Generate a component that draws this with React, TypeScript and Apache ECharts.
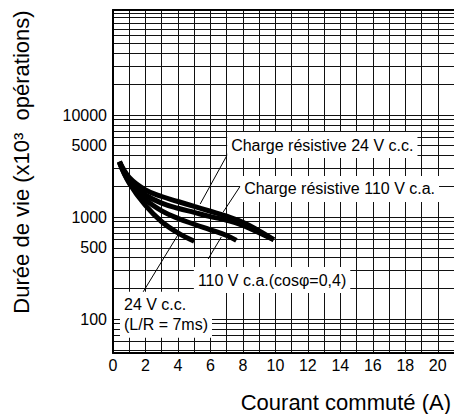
import React, { useEffect, useRef } from "react";
import * as echarts from "echarts";

const FONT = "'Liberation Sans', Arial, Helvetica, sans-serif";

// Axis ticks / labels
const xGridCurrents = [0, 1, 2, 3, 4, 5, 6, 7, 8, 9, 10, 11, 12, 13, 14, 15, 16, 17, 18, 19, 20];
const xLabelCurrents = [0, 2, 4, 6, 8, 10, 12, 14, 16, 18, 20];
const yLabelLives = [100, 500, 1000, 5000, 10000];
const yGridLives = [
  50, 60, 70, 80, 90,
  100, 200, 300, 400, 500, 600, 700, 800, 900,
  1000, 2000, 3000, 4000, 5000, 6000, 7000, 8000, 9000,
  10000, 20000, 30000, 40000, 50000, 60000, 70000, 80000, 90000,
  100000,
];
const xMinCurrent = 0;
const xMaxCurrent = 21;
const yMinLife = 46.5;
const yMaxLife = 107000;

// Curves (life in x10^3 operations vs switched current in A)
const res24Current = [0.4, 1, 2, 3, 4, 5, 6, 7, 8, 9, 9.9];
const res24Life = [3500, 2450, 1850, 1590, 1420, 1270, 1140, 1020, 890, 730, 600];
const res110Current = [0.4, 1, 2, 3, 4, 5, 6, 7, 8, 9, 9.9];
const res110Life = [3500, 2300, 1650, 1370, 1220, 1110, 1010, 930, 830, 700, 600];
const ind110Current = [0.4, 1, 2, 3, 4, 5, 6, 7, 7.6];
const ind110Life = [3450, 2200, 1480, 1150, 970, 850, 750, 660, 590];
const ind24Current = [0.4, 1, 2, 3, 4, 5];
const ind24Life = [3400, 2150, 1300, 900, 700, 580];

// Annotations
const noteTexts = [
  "Charge résistive 24 V c.c.",
  "Charge résistive 110 V c.a.",
  "110 V c.a.(cosφ=0,4)",
  "24 V c.c.\n(L/R = 7ms)",
];
const noteCurrents = [7.0, 7.8, 4.95, 0.4];
const noteLives = [5080, 1884, 241, 110];

const leaderFromCurrents = [7.1, 7.84, 6.67, 4.07];
const leaderFromLives = [4246, 2014, 637, 698];
const leaderToCurrents = [5.37, 6.79, 5.86, 1.85];
const leaderToLives = [1343, 1122, 388, 184];

const seriesNames = [
  "Charge résistive 24 V c.c.",
  "Charge résistive 110 V c.a.",
  "110 V c.a.(cosφ=0,4)",
  "24 V c.c. (L/R = 7ms)",
];

const lg = (v: number) => Math.log10(v);
const toPairs = (xs: number[], ys: number[]) => xs.map((x, i) => [x, lg(ys[i])]);

export default function App() {
  const ref = useRef<HTMLDivElement>(null);

  useEffect(() => {
    if (!ref.current) return;
    const chart = echarts.init(ref.current, undefined, { renderer: "svg" });

    const gridLine = { show: true, lineStyle: { color: "#111", width: 1 } };
    const curveStyle = { color: "#000", width: 5 };

    const curveData = [
      toPairs(res24Current, res24Life),
      toPairs(res110Current, res110Life),
      toPairs(ind110Current, ind110Life),
      toPairs(ind24Current, ind24Life),
    ];

    const series: any[] = curveData.map((d, i) => ({
      type: "line",
      name: seriesNames[i],
      data: d,
      smooth: 0.4,
      showSymbol: false,
      symbol: "none",
      lineStyle: curveStyle,
      itemStyle: { color: "#000" },
      z: 3,
    }));

    series.push({
      type: "line",
      name: "annotations",
      data: [],
      z: 5,
      markLine: {
        silent: true,
        symbol: ["none", "none"],
        label: { show: false },
        lineStyle: { color: "#000", width: 1, type: "solid" },
        data: leaderFromCurrents.map((x, i) => [
          { coord: [x, lg(leaderFromLives[i])] },
          { coord: [leaderToCurrents[i], lg(leaderToLives[i])] },
        ]),
      },
      markPoint: {
        silent: true,
        symbol: "circle",
        symbolSize: 1,
        itemStyle: { color: "rgba(0,0,0,0)" },
        data: noteTexts.map((t, i) => ({
          coord: [noteCurrents[i], lg(noteLives[i])],
          value: t,
          label: {
            show: true,
            position: "right",
            distance: 0,
            formatter: t,
            color: "#000",
            fontFamily: FONT,
            fontSize: 16,
            lineHeight: 20,
            backgroundColor: "#fff",
            padding: [3, 4, 3, 4],
          },
        })),
      },
    });

    chart.setOption({
      animation: false,
      textStyle: { fontFamily: FONT },
      grid: { left: 113, right: 0, top: 10, bottom: 61, containLabel: false },
      xAxis: [
        {
          type: "value",
          min: xMinCurrent,
          max: xMaxCurrent,
          axisLine: { show: true, onZero: false, lineStyle: { color: "#000", width: 2 } },
          axisTick: { show: false, customValues: xGridCurrents },
          axisLabel: {
            customValues: xLabelCurrents,
            color: "#000",
            fontFamily: FONT,
            fontSize: 16,
            margin: 4,
          },
          splitLine: gridLine,
        },
        {
          type: "value",
          position: "top",
          min: xMinCurrent,
          max: xMaxCurrent,
          axisLine: { show: true, onZero: false, lineStyle: { color: "#000", width: 2 } },
          axisTick: { show: false },
          axisLabel: { show: false },
          splitLine: { show: false },
        },
      ],
      yAxis: {
        type: "value",
        min: lg(yMinLife),
        max: lg(yMaxLife),
        axisLine: { show: true, onZero: false, lineStyle: { color: "#000", width: 2 } },
        axisTick: { show: false, customValues: yGridLives.map(lg) },
        axisLabel: {
          customValues: yLabelLives.map(lg),
          formatter: (v: number) => String(Math.round(Math.pow(10, v))),
          color: "#000",
          fontFamily: FONT,
          fontSize: 16,
          margin: 6,
          padding: [6, 0, 0, 0],
        },
        splitLine: gridLine,
      },
      graphic: [
        {
          type: "text",
          x: 21,
          y: 162,
          rotation: Math.PI / 2,
          style: {
            text: "Durée de vie (x10³  opérations)",
            font: `22px ${FONT}`,
            fill: "#000",
            align: "center",
            verticalAlign: "middle",
          },
        },
        {
          type: "text",
          x: 451,
          y: 402,
          style: {
            text: "Courant commuté (A)",
            font: `22px ${FONT}`,
            fill: "#000",
            align: "right",
            verticalAlign: "middle",
          },
        },
      ],
      series,
    });

    return () => chart.dispose();
  }, []);

  return (
    <div
      ref={ref}
      style={{ position: "fixed", left: 0, top: 0, width: 454, height: 414, background: "#fff" }}
    />
  );
}
